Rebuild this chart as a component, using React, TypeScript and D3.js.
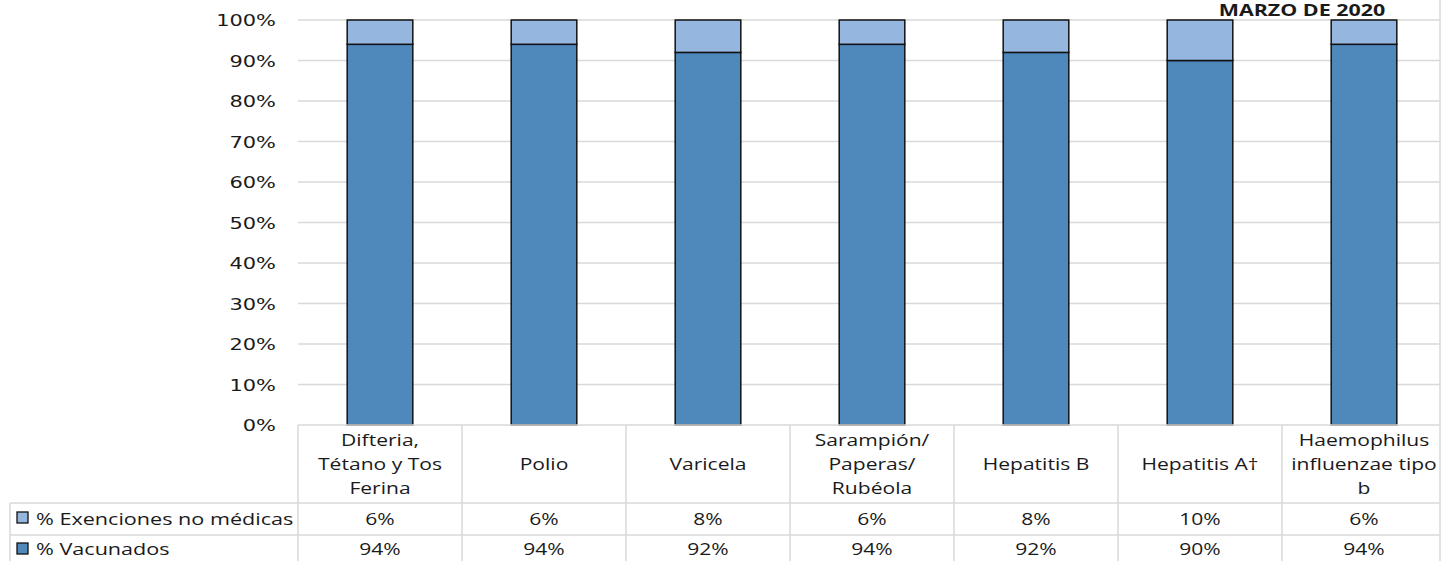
import * as d3 from "d3"

const categories = [
    ["Difteria,", "Tétano y Tos", "Ferina"],
    ["Polio"],
    ["Varicela"],
    ["Sarampión/", "Paperas/", "Rubéola"],
    ["Hepatitis B"],
    ["Hepatitis A†"],
    ["Haemophilus", "influenzae tipo", "b"],
]
const vacunados = [94, 94, 92, 94, 92, 90, 94]
const exenciones = [6, 6, 8, 6, 8, 10, 6]
const yTicks = [0, 10, 20, 30, 40, 50, 60, 70, 80, 90, 100]
const seriesNames = ["% Exenciones no médicas", "% Vacunados"]
const title = "MARZO DE 2020"

const width = 1454
const height = 561
const colDark = "#4f88bb"
const colLight = "#95b7df"
const gridCol = "#d9d9d9"
const textCol = "#1a1a1a"

export default function App() {
    const margin = { top: 20, left: 298, right: 1446, bottom: 425 }
    const clipRight = 1440

    const xScale = d3.scaleBand<number>()
        .domain(d3.range(categories.length))
        .range([margin.left, margin.right])
        .paddingInner(0.6)
        .paddingOuter(0.3)

    const yScale = d3.scaleLinear()
        .domain([0, 100])
        .range([margin.bottom, margin.top])

    const step = xScale.step()
    const cellLeft = (i: number) => margin.left + i * step
    const cellCenter = (i: number) => cellLeft(i) + step / 2

    const rowTop = margin.bottom
    const row1 = 503
    const row2 = 535
    const row3 = 567

    // el original está estirado en horizontal
    const stretched = (x: number, y: number, txt: string, anchor: string, size: number, font: string, sx: number, key?: any, weight = "normal") => (
        <text key={key} transform={`translate(${x},${y}) scale(${sx},1)`} textAnchor={anchor}
            fontFamily={font} fontSize={size} fontWeight={weight} fill={textCol}>{txt}</text>
    )

    const tableFont = "'Open Sans', sans-serif"
    const tickFont = "'DejaVu Sans', Verdana, sans-serif"

    return (
        <svg width={width} height={height} style={{ position: "absolute", left: 0, top: 0, background: "#fff" }}>
            {/* gridlines */}
            {yTicks.filter(t => t > 0).map(t => (
                <line key={t} x1={margin.left} x2={clipRight} y1={yScale(t)} y2={yScale(t)} stroke={gridCol} strokeWidth={1.5} />
            ))}
            {/* tick labels */}
            {yTicks.map(t => stretched(276, yScale(t) + 6, `${t}%`, "end", 16.5, tickFont, 1.27, "t" + t))}

            {/* bars */}
            {categories.map((_, i) => {
                const x = xScale(i)!
                const w = xScale.bandwidth()
                return (
                    <g key={i}>
                        <rect x={x} y={yScale(vacunados[i])} width={w} height={yScale(0) - yScale(vacunados[i])}
                            fill={colDark} stroke="#111" strokeWidth={1.5} />
                        <rect x={x} y={yScale(vacunados[i] + exenciones[i])} width={w}
                            height={yScale(vacunados[i]) - yScale(vacunados[i] + exenciones[i])}
                            fill={colLight} stroke="#111" strokeWidth={1.5} />
                    </g>
                )
            })}

            {/* data table */}
            <g stroke={gridCol} strokeWidth={1.5}>
                <line x1={margin.left} x2={clipRight} y1={rowTop} y2={rowTop} />
                <line x1={10} x2={clipRight} y1={row1} y2={row1} />
                <line x1={10} x2={clipRight} y1={row2} y2={row2} />
                <line x1={10} x2={10} y1={row1} y2={row3} />
                {categories.map((_, i) => (
                    <line key={i} x1={cellLeft(i)} x2={cellLeft(i)} y1={rowTop} y2={row3} />
                ))}
                <line x1={clipRight} x2={clipRight} y1={0} y2={height} />
            </g>

            {categories.map((lines, i) => {
                const lh = 24
                const y0 = (rowTop + row1) / 2 - ((lines.length - 1) * lh) / 2 + 6
                return lines.map((l, j) => stretched(cellCenter(i), y0 + j * lh, l, "middle", 17, tableFont, 1.24, `c${i}-${j}`))
            })}

            {exenciones.map((v, i) => stretched(cellCenter(i), 524.5, `${v}%`, "middle", 17, tableFont, 1.24, "e" + i))}
            {vacunados.map((v, i) => stretched(cellCenter(i), 555, `${v}%`, "middle", 17, tableFont, 1.24, "v" + i))}

            {/* legend keys */}
            <rect x={17} y={512} width={11} height={11} fill={colLight} stroke="#111" strokeWidth={1.3} />
            <rect x={17} y={543} width={11} height={11} fill={colDark} stroke="#111" strokeWidth={1.3} />
            {stretched(36, 524.5, seriesNames[0], "start", 17, tableFont, 1.27, "s0")}
            {stretched(36, 555, seriesNames[1], "start", 17, tableFont, 1.27, "s1")}

            {/* title */}
            {stretched(1302, 16, title, "middle", 16.5, tableFont, 1.3, "title", "bold")}
        </svg>
    )
}
